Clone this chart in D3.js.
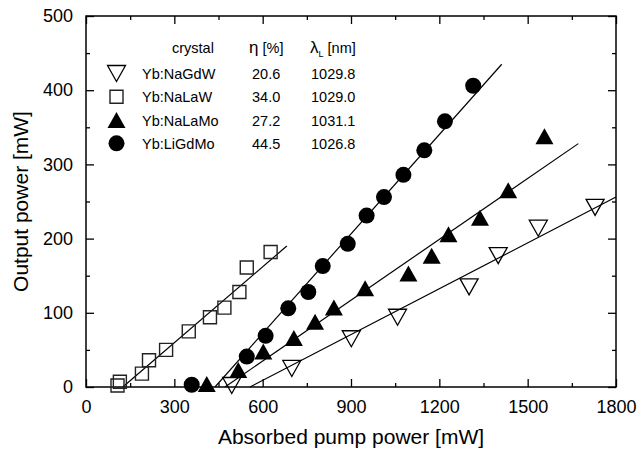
<!DOCTYPE html>
<html><head><meta charset="utf-8">
<script src="https://cdn.jsdelivr.net/npm/d3@7"></script>
<style>
html,body{margin:0;padding:0;background:#fff;}
text{font-family:Arial,"Liberation Sans",sans-serif;fill:#000;}
</style></head>
<body><svg id="c" width="639" height="450"></svg>
<script>
// ---- data ----
const xTicks = [0, 300, 600, 900, 1200, 1500, 1800];
const yTicks = [0, 100, 200, 300, 400, 500];
const crystals = ["Yb:NaGdW", "Yb:NaLaW", "Yb:NaLaMo", "Yb:LiGdMo"];
const etaValues = ["20.6", "34.0", "27.2", "44.5"];
const lambdaValues = ["1029.8", "1029.0", "1031.1", "1026.8"];

const naGdWx = [495, 699, 901, 1058, 1301, 1400, 1536, 1729];
const naGdWy = [2, 25, 65, 94, 135, 177, 214, 242];
const naLaWx = [107, 115, 190, 214, 272, 349, 421, 470, 521, 546, 627];
const naLaWy = [2, 7, 18, 36, 50, 75, 94, 107, 128, 161, 182];
const naLaMox = [410, 517, 602, 706, 778, 842, 948, 1095, 1174, 1231, 1338, 1434, 1557];
const naLaMoy = [4, 23, 48, 66, 88, 107, 133, 153, 177, 206, 228, 265, 338];
const liGdMox = [359, 546, 610, 687, 755, 804, 889, 953, 1012, 1078, 1149, 1219, 1315];
const liGdMoy = [3, 41, 69, 106, 128, 163, 193, 231, 256, 286, 319, 358, 406];

// linear fit end points [x, y]
const fitNaGdW = [[557, 0], [1800, 256]];
const fitNaLaW = [[125, 0], [682, 190]];
const fitNaLaMo = [[472, 0], [1672, 328]];
const fitLiGdMo = [[438, 0], [1412, 435]];

// ---- drawing ----
const svg = d3.select("#c");
const L = 86, R = 616, T = 16, B = 387;
const x = d3.scaleLinear().domain([0, 1800]).range([L, R]);
const y = d3.scaleLinear().domain([0, 500]).range([B, T]);

const sym = {
  down: () => { const w = 9, h = 8; return `M${-w},${-h}L${w},${-h}L0,${h}Z`; },
  up: () => { const w = 9, h = 8; return `M${-w},${h}L${w},${h}L0,${-h}Z`; },
  square: () => { const a = 6.5; return `M${-a},${-a}H${a}V${a}H${-a}Z`; },
  circle: () => { const r = 8; return `M${r},0A${r},${r} 0 1,1 ${-r},0A${r},${r} 0 1,1 ${r},0Z`; }
};
const styles = {
  down: {fill: "none", stroke: "#000", sw: 1.3},
  square: {fill: "none", stroke: "#222", sw: 1.4},
  up: {fill: "#000", stroke: "none", sw: 0},
  circle: {fill: "#000", stroke: "none", sw: 0}
};

// axes: ticks inward on all four sides
const minorX = d3.range(150, 1800, 300);
const minorY = d3.range(50, 500, 100);
const g = svg.append("g");
const axB = d3.axisBottom(x).tickValues(xTicks).tickSizeInner(-8).tickSizeOuter(0).tickFormat(d3.format("d")).tickPadding(13);
const axL = d3.axisLeft(y).tickValues(yTicks).tickSizeInner(-8).tickSizeOuter(0).tickFormat(d3.format("d")).tickPadding(13);
const axT = d3.axisTop(x).tickValues(xTicks).tickSizeInner(-8).tickSizeOuter(0).tickFormat("");
const axRt = d3.axisRight(y).tickValues(yTicks).tickSizeInner(-8).tickSizeOuter(0).tickFormat("");
const mB = d3.axisBottom(x).tickValues(minorX).tickSizeInner(-4).tickSizeOuter(0).tickFormat("");
const mL = d3.axisLeft(y).tickValues(minorY).tickSizeInner(-4).tickSizeOuter(0).tickFormat("");
const mT = d3.axisTop(x).tickValues(minorX).tickSizeInner(-4).tickSizeOuter(0).tickFormat("");
const mR = d3.axisRight(y).tickValues(minorY).tickSizeInner(-4).tickSizeOuter(0).tickFormat("");

function addAxis(ax, tr) {
  const a = g.append("g").attr("transform", tr).call(ax);
  a.select(".domain").remove();
  a.selectAll("line").attr("stroke", "#000").attr("stroke-width", 1.3);
  a.selectAll("text").attr("font-size", 18).attr("font-family", "Arial, 'Liberation Sans', sans-serif").attr("fill", "#000");
  return a;
}
addAxis(axB, `translate(0,${B})`);
addAxis(axL, `translate(${L},0)`);
addAxis(axT, `translate(0,${T})`);
addAxis(axRt, `translate(${R},0)`);
addAxis(mB, `translate(0,${B})`);
addAxis(mL, `translate(${L},0)`);
addAxis(mT, `translate(0,${T})`);
addAxis(mR, `translate(${R},0)`);

svg.append("rect").attr("x", L).attr("y", T).attr("width", R - L).attr("height", B - T)
  .attr("fill", "none").attr("stroke", "#000").attr("stroke-width", 1.5);

// fit lines
const line = d3.line().x(d => x(d[0])).y(d => y(d[1]));
[fitNaGdW, fitNaLaW, fitNaLaMo, fitLiGdMo].forEach(f => {
  svg.append("path").attr("d", line(f)).attr("fill", "none").attr("stroke", "#000").attr("stroke-width", 1.2);
});

// points
const series = [
  {xs: naGdWx, ys: naGdWy, s: "down"},
  {xs: naLaWx, ys: naLaWy, s: "square"},
  {xs: naLaMox, ys: naLaMoy, s: "up"},
  {xs: liGdMox, ys: liGdMoy, s: "circle"}
];
series.forEach(se => {
  const st = styles[se.s];
  svg.append("g").selectAll("path").data(se.xs.map((v, i) => [v, se.ys[i]])).join("path")
    .attr("transform", d => `translate(${x(d[0])},${y(d[1])})`)
    .attr("d", sym[se.s]())
    .attr("fill", st.fill).attr("stroke", st.stroke).attr("stroke-width", st.sw);
});

// axis titles
svg.append("text").attr("x", (L + R) / 2).attr("y", 444).attr("text-anchor", "middle")
  .attr("font-size", 21).text("Absorbed pump power [mW]");
svg.append("text").attr("transform", `translate(28,${(T + B) / 2}) rotate(-90)`).attr("text-anchor", "middle")
  .attr("font-size", 21).text("Output power [mW]");

// legend table
const leg = svg.append("g");
const fs = 14.5;
leg.append("text").attr("x", 172).attr("y", 53).attr("font-size", fs).text("crystal");
const eh = leg.append("text").attr("x", 249).attr("y", 53).attr("font-size", fs);
eh.append("tspan").attr("font-size", 17).text("η");
eh.append("tspan").text(" [%]");
const lh = leg.append("text").attr("x", 310).attr("y", 53).attr("font-size", fs);
lh.append("tspan").attr("font-size", 17).text("λ");
lh.append("tspan").attr("font-size", 9).attr("dy", 4).text("L");
lh.append("tspan").attr("dy", -4).text(" [nm]");
const keys = ["down", "square", "up", "circle"];
const rowY = d3.scaleLinear().domain([0, 3]).range([73.5, 143.3]);
crystals.forEach((name, i) => {
  const cy = rowY(i);
  const st = styles[keys[i]];
  leg.append("path").attr("transform", `translate(116.5,${cy})`).attr("d", sym[keys[i]]())
    .attr("fill", st.fill).attr("stroke", st.stroke).attr("stroke-width", st.sw);
  leg.append("text").attr("x", 142).attr("y", cy + 5.5).attr("font-size", fs).text(name);
  leg.append("text").attr("x", 252).attr("y", cy + 5.5).attr("font-size", fs).text(etaValues[i]);
  leg.append("text").attr("x", 311).attr("y", cy + 5.5).attr("font-size", fs).text(lambdaValues[i]);
});
</script></body></html>
